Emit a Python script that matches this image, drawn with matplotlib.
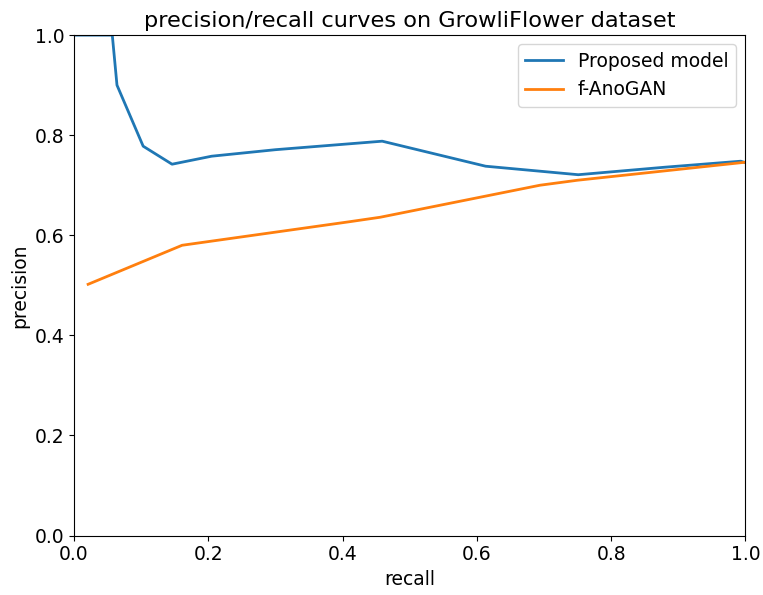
import matplotlib
matplotlib.use("Agg")
import matplotlib.pyplot as plt

# values
recall_proposed = [0.0, 0.057, 0.064, 0.103, 0.146, 0.205, 0.30, 0.459, 0.613, 0.751, 0.88, 0.993, 1.0]
precision_proposed = [1.0, 1.0, 0.90, 0.778, 0.742, 0.758, 0.771, 0.788, 0.738, 0.721, 0.736, 0.748, 0.745]

recall_anogan = [0.021, 0.161, 0.41, 0.456, 0.694, 0.75, 1.0]
precision_anogan = [0.502, 0.580, 0.627, 0.636, 0.700, 0.710, 0.746]

plt.rcParams["font.size"] = 13.5

fig, ax = plt.subplots(figsize=(7.63, 5.95), dpi=100)
ax.plot(recall_proposed, precision_proposed, label="Proposed model", lw=2)
ax.plot(recall_anogan, precision_anogan, label="f-AnoGAN", lw=2)
ax.set_xlim(0, 1)
ax.set_ylim(0, 1)
ax.set_xlabel("recall", fontsize=13.5)
ax.set_ylabel("precision", fontsize=13.5)
ax.set_title("precision/recall curves on GrowliFlower dataset", fontsize=16.2)
ax.tick_params(labelsize=13.5)
ax.legend(loc="upper right", fontsize=13.5)
plt.subplots_adjust(left=0.097, right=0.977, top=0.941, bottom=0.1)
plt.savefig("out.png")
